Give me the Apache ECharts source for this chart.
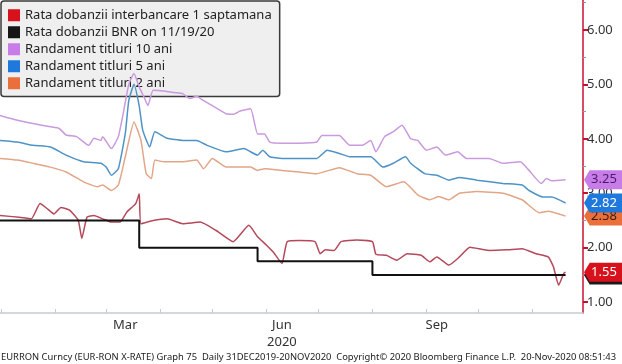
<!DOCTYPE html>
<html><head><meta charset="utf-8">
<script src="https://cdn.jsdelivr.net/npm/echarts@6/dist/echarts.min.js"></script>
<style>html,body{margin:0;padding:0;background:#fff}#c{width:622px;height:364px}</style>
</head><body><div id="c"></div>
<script>
const seriesNames = ['Rata dobanzii interbancare 1 saptamana','Rata dobanzii BNR on 11/19/20','Randament titluri 10 ani','Randament titluri 5 ani','Randament titluri 2 ani'];

const interbank1w = [['2019-12-31',2.59],['2020-01-11',2.56],['2020-01-18',2.53],['2020-01-23',2.81],['2020-01-27',2.72],['2020-01-31',2.62],['2020-02-04',2.74],['2020-02-09',2.69],['2020-02-14',2.50],['2020-02-16',2.17],['2020-02-19',2.56],['2020-02-23',2.59],['2020-02-28',2.53],['2020-03-04',2.47],['2020-03-09',2.47],['2020-03-13',2.66],['2020-03-18',2.81],['2020-03-20',2.99],['2020-03-21',2.44],['2020-03-28',2.50],['2020-04-05',2.53],['2020-04-14',2.44],['2020-04-24',2.47],['2020-05-03',2.32],['2020-05-13',2.11],['2020-05-22',2.41],['2020-05-27',2.20],['2020-06-01',2.05],['2020-06-05',1.92],['2020-06-10',1.71],['2020-06-13',2.11],['2020-06-20',2.13],['2020-06-29',2.11],['2020-07-02',1.89],['2020-07-05',1.96],['2020-07-10',1.95],['2020-07-14',2.11],['2020-07-23',2.14],['2020-08-01',2.11],['2020-08-03',1.88],['2020-08-09',1.86],['2020-08-15',1.77],['2020-08-21',1.89],['2020-08-29',1.86],['2020-09-03',1.74],['2020-09-07',1.83],['2020-09-14',1.68],['2020-09-20',1.83],['2020-09-26',2.01],['2020-10-07',1.95],['2020-10-17',1.96],['2020-10-26',1.98],['2020-11-03',1.89],['2020-11-10',1.83],['2020-11-13',1.65],['2020-11-16',1.31],['2020-11-19',1.53],['2020-11-20',1.55]];

const bnrRate = [['2019-12-31',2.50],['2020-03-20',2.00],['2020-05-27',1.75],['2020-08-01',1.50],['2020-11-20',1.50]];

const yield10y = [['2019-12-31',4.43],['2020-01-10',4.34],['2020-01-19',4.28],['2020-01-29',4.22],['2020-02-03',4.19],['2020-02-07',4.07],['2020-02-13',4.04],['2020-02-20',3.88],['2020-02-23',4.01],['2020-02-27',3.97],['2020-02-28',4.04],['2020-03-04',3.82],['2020-03-08',4.04],['2020-03-11',4.50],['2020-03-14',5.00],['2020-03-17',5.20],['2020-03-20',4.95],['2020-03-23',4.75],['2020-03-25',4.61],['2020-03-28',4.89],['2020-04-03',4.88],['2020-04-09',4.85],['2020-04-14',4.83],['2020-04-18',4.74],['2020-04-22',4.78],['2020-04-26',4.70],['2020-05-01',4.61],['2020-05-09',4.46],['2020-05-13',4.45],['2020-05-17',4.51],['2020-05-23',4.55],['2020-05-27',4.09],['2020-05-31',4.09],['2020-06-03',3.94],['2020-06-10',3.92],['2020-06-20',3.92],['2020-06-30',3.94],['2020-07-03',4.06],['2020-07-13',4.06],['2020-07-19',3.88],['2020-07-26',3.88],['2020-07-31',3.97],['2020-08-03',3.76],['2020-08-08',4.04],['2020-08-13',4.13],['2020-08-18',4.25],['2020-08-23',4.00],['2020-08-27',3.97],['2020-09-01',3.79],['2020-09-07',3.85],['2020-09-12',3.70],['2020-09-19',3.76],['2020-09-24',3.64],['2020-10-07',3.64],['2020-10-15',3.55],['2020-10-25',3.58],['2020-10-30',3.42],['2020-11-06',3.18],['2020-11-09',3.27],['2020-11-12',3.23],['2020-11-20',3.25]];

const yield5y = [['2019-12-31',3.97],['2020-01-10',3.94],['2020-01-19',3.88],['2020-01-29',3.85],['2020-02-07',3.70],['2020-02-17',3.58],['2020-02-27',3.55],['2020-03-01',3.48],['2020-03-04',3.33],['2020-03-08',3.45],['2020-03-12',4.10],['2020-03-14',4.70],['2020-03-17',5.00],['2020-03-20',4.60],['2020-03-22',4.16],['2020-03-26',3.85],['2020-03-29',4.13],['2020-04-05',4.01],['2020-04-14',3.97],['2020-04-22',3.97],['2020-04-28',3.88],['2020-05-09',3.76],['2020-05-19',3.82],['2020-05-27',3.70],['2020-05-30',3.79],['2020-06-03',3.67],['2020-06-10',3.64],['2020-06-20',3.64],['2020-06-30',3.64],['2020-07-06',3.79],['2020-07-13',3.73],['2020-07-19',3.67],['2020-07-31',3.67],['2020-08-07',3.48],['2020-08-13',3.55],['2020-08-20',3.67],['2020-08-23',3.55],['2020-08-31',3.36],['2020-09-07',3.33],['2020-09-14',3.24],['2020-09-20',3.29],['2020-09-30',3.24],['2020-10-15',3.18],['2020-10-26',3.15],['2020-10-30',3.05],['2020-11-07',2.93],['2020-11-12',2.93],['2020-11-20',2.82]];

const yield2y = [['2019-12-31',3.64],['2020-01-10',3.61],['2020-01-19',3.55],['2020-01-29',3.48],['2020-02-07',3.39],['2020-02-17',3.21],['2020-02-25',3.12],['2020-02-28',3.15],['2020-03-04',3.05],['2020-03-08',3.15],['2020-03-12',3.67],['2020-03-17',4.31],['2020-03-21',3.97],['2020-03-24',3.36],['2020-03-27',3.27],['2020-03-29',3.61],['2020-04-03',3.58],['2020-04-14',3.58],['2020-04-22',3.61],['2020-04-26',3.45],['2020-05-01',3.64],['2020-05-09',3.48],['2020-05-23',3.48],['2020-05-27',3.42],['2020-05-31',3.45],['2020-06-10',3.42],['2020-06-20',3.39],['2020-06-30',3.36],['2020-07-13',3.47],['2020-07-23',3.36],['2020-07-31',3.33],['2020-08-09',3.12],['2020-08-19',3.21],['2020-08-27',2.97],['2020-09-03',2.88],['2020-09-08',2.94],['2020-09-14',2.88],['2020-09-20',3.00],['2020-09-30',3.03],['2020-10-15',3.00],['2020-10-26',2.88],['2020-11-05',2.64],['2020-11-10',2.67],['2020-11-20',2.58]];

const monthTicks = ['2020-01-01','2020-02-01','2020-03-01','2020-04-01','2020-05-01','2020-06-01','2020-07-01','2020-08-01','2020-09-01','2020-10-01','2020-11-01'];
const xLabelDates = ['2020-03-12','2020-06-10','2020-09-07'];
const xLabelTexts = ['Mar','Jun\n2020','Sep'];
const yTickValues = [1,2,3,4,5,6];
const yMinorTickValues = [1.5,2.5,3.5,4.5,5.5,6.5];
const footerText = 'EURRON Curncy (EUR-RON X-RATE) Graph 75  Daily 31DEC2019-20NOV2020  Copyright\u00a9 2020 Bloomberg Finance L.P.  20-Nov-2020 08:51:43';

const xMin = '2019-12-31', xMax = '2020-11-30';
const ts = s => Date.UTC(+s.slice(0,4), +s.slice(5,7)-1, +s.slice(8,10));

const lineColors = ['#b5485a','#111111','#c99ade','#4f93c6','#e2a585'];
const legendColors = ['#d8121d','#161616','#c77ce8','#1f78dc','#ea6f3b'];
const tagBg = ['#d8121d','#1a1a1a','#c77ce8','#1f78dc','#ea6f3b'];
const tagText = ['#ffffff','#ffffff','#4a1a6a','#ffffff','#3a1a0a'];
const tagZ = [6,5,6,5,4];
const dataSets = [interbank1w, bnrRate, yield10y, yield5y, yield2y];

const tagPath = 'path://M0,9 L6,0 L40,0 L40,18 L6,18 Z';
const xLabelTs = xLabelDates.map(ts);

const series = dataSets.map((d,i)=>({
  name: seriesNames[i],
  type: 'line',
  data: d.map(p => [ts(p[0]), p[1]]),
  showSymbol: false,
  symbol: 'none',
  step: i===1 ? 'end' : false,
  smooth: i===1 ? false : 0.15,
  lineStyle: {color: lineColors[i], width: i===1 ? 2 : 1.5},
  itemStyle: {color: legendColors[i]},
  z: 3,
  markPoint: {
    z: tagZ[i],
    symbol: tagPath,
    symbolSize: [38,19],
    symbolOffset: [20,0],
    silent: true,
    itemStyle: {color: tagBg[i]},
    label: {show: true, position: 'inside', offset:[1,0], color: tagText[i], fontSize: 13, fontFamily: 'Noto Sans',
      formatter: p => p.value.toFixed(2)},
    data: [{coord: [ts(xMax), d[d.length-1][1]], value: d[d.length-1][1]}]
  }
}));

const chart = echarts.init(document.getElementById('c'), null, {renderer:'canvas'});
chart.setOption({
  animation: false,
  backgroundColor: '#ffffff',
  grid: {left: 0, right: 39, top: 0, bottom: 51},
  title: {text: footerText, left: 0, bottom: 0, padding: [0,0,2,1],
    textStyle: {fontSize: 9.4, fontWeight: 'normal', color: '#222', fontFamily: 'Noto Sans'}},
  legend: {
    orient: 'vertical', left: 1, top: 1, z: 1,
    padding: [7, 8, 6, 7], itemGap: 2.5,
    backgroundColor: '#efefef', borderColor: '#3a3a3a', borderWidth: 1.5, borderRadius: 3,
    icon: 'rect', itemWidth: 12, itemHeight: 12,
    textStyle: {fontSize: 13, color: '#222', fontFamily: 'Noto Sans', lineHeight: 14.5},
    data: seriesNames.map((n,i)=>({name: n, itemStyle: {color: legendColors[i]}}))
  },
  xAxis: {
    type: 'value', min: ts(xMin), max: ts(xMax),
    axisLine: {show: true, lineStyle: {color: '#c5ccd6', width: 1.5}},
    axisTick: {show: true, inside: true, length: 4, lineStyle: {color: '#c5ccd6'},
      customValues: monthTicks.map(ts)},
    axisLabel: {show: true, customValues: xLabelTs, margin: 4, hideOverlap: false,
      color: '#333', fontSize: 13, lineHeight: 17, fontFamily: 'Noto Sans',
      formatter: v => { const k = xLabelTs.indexOf(v); return k>=0 ? xLabelTexts[k] : ''; }},
    splitLine: {show: false}
  },
  yAxis: [{
    type: 'value', position: 'right', min: 0.8, max: 6.55,
    axisLine: {show: true, lineStyle: {color: '#c8102e', width: 1.5}},
    axisTick: {show: true, length: 5, lineStyle: {color: '#c8102e', width: 2}, customValues: yTickValues},
    axisLabel: {show: true, customValues: yTickValues, margin: 4, color: '#333', fontSize: 13, fontFamily: 'Noto Sans',
      formatter: v => v.toFixed(2)},
    splitLine: {show: false}
  },{
    type: 'value', position: 'right', min: 0.8, max: 6.55,
    axisLine: {show: false},
    axisTick: {show: true, length: 3, lineStyle: {color: '#999', width: 1}, customValues: yMinorTickValues},
    axisLabel: {show: false}, splitLine: {show: false}
  }],
  series: series
});
</script></body></html>
